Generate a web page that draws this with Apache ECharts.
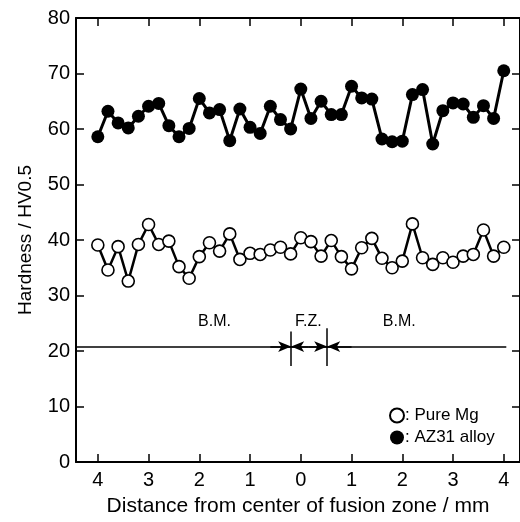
<!DOCTYPE html>
<html><head><meta charset="utf-8">
<script src="https://cdn.jsdelivr.net/npm/echarts@6/dist/echarts.min.js"></script>
<style>html,body{margin:0;padding:0;background:#fff}#c{width:520px;height:522px}</style>
</head><body><div id="c"></div>
<script>
// Positions (mm, negative = left side of fusion zone)
const positions = [-4.0,-3.8,-3.6,-3.4,-3.2,-3.0,-2.8,-2.6,-2.4,-2.2,-2.0,-1.8,-1.6,-1.4,-1.2,-1.0,-0.8,-0.6,-0.4,-0.2,0.0,0.2,0.4,0.6,0.8,1.0,1.2,1.4,1.6,1.8,2.0,2.2,2.4,2.6,2.8,3.0,3.2,3.4,3.6,3.8,4.0];
const az31 = [58.6,63.2,61.1,60.2,62.3,64.1,64.6,60.6,58.6,60.1,65.5,62.9,63.5,57.9,63.6,60.3,59.2,64.1,61.7,60.0,67.2,61.9,65.0,62.6,62.6,67.7,65.6,65.4,58.2,57.7,57.8,66.2,67.1,57.3,63.3,64.7,64.5,62.1,64.2,61.9,70.5];
const pureMg = [39.1,34.6,38.8,32.6,39.2,42.8,39.2,39.8,35.2,33.1,37.0,39.5,38.0,41.1,36.5,37.6,37.4,38.2,38.7,37.5,40.4,39.7,37.1,39.9,37.0,34.8,38.6,40.3,36.7,35.0,36.2,42.9,36.8,35.6,36.8,36.0,37.1,37.4,41.8,37.1,38.7];
const xTicks = [-4,-3,-2,-1,0,1,2,3,4];
const xTickLabels = ['4','3','2','1','0','1','2','3','4'];
const zoneLabels = ['B.M.','F.Z.','B.M.'];
const zoneLabelX = [-1.7,0.15,1.94];
const zoneLabelY = 25.3;
const dimLineY = 20.8;
const fzBounds = [-0.19,0.52];

const FONT = 'Liberation Sans';
const black = '#000';
const axisLine = {show:true, onZero:false, lineStyle:{color:black,width:2}};
const tick = {show:true, inside:true, length:8, lineStyle:{color:black,width:1.5}};
const xMin = -4.43, xMax = 4.32;

const chart = echarts.init(document.getElementById('c'));
const mk = (a,b,s0,s1) => [{coord:a, symbol:s0}, {coord:b, symbol:s1}];
chart.setOption({
  animation:false,
  backgroundColor:'#fff',
  grid:{left:76,right:-1,top:18,bottom:59},
  legend:{
    orient:'vertical', left:384, top:402, itemWidth:14, itemHeight:14, itemGap:5,
    data:[{name:'Pure Mg',icon:'circle'},{name:'AZ31 alloy',icon:'circle'}],
    formatter: n => ': ' + n,
    textStyle:{fontFamily:FONT,fontSize:17,color:black,padding:[0,0,0,-4]}
  },
  xAxis:[
    {type:'value', min:xMin, max:xMax, position:'bottom', axisLine, 
     axisTick:Object.assign({customValues:xTicks},tick),
     axisLabel:{customValues:xTicks, formatter:(v)=>xTickLabels[xTicks.indexOf(Math.round(v))], fontFamily:FONT, fontSize:20, color:black, margin:8},
     splitLine:{show:false},
     name:'Distance from center of fusion zone / mm', nameLocation:'middle', nameGap:34,
     nameTextStyle:{fontFamily:FONT,fontSize:21,color:black}},
    {type:'value', min:xMin, max:xMax, position:'top', axisLine,
     axisTick:Object.assign({customValues:xTicks},tick),
     axisLabel:{show:false}, splitLine:{show:false}}
  ],
  yAxis:[
    {type:'value', min:0, max:80, interval:10, position:'left', axisLine, axisTick:tick,
     axisLabel:{fontFamily:FONT,fontSize:20,color:black,margin:6}, splitLine:{show:false},
     name:'Hardness / HV0.5', nameLocation:'middle', nameGap:41, nameRotate:90,
     nameTextStyle:{fontFamily:FONT,fontSize:19,color:black}},
    {type:'value', min:0, max:80, interval:10, position:'right', axisLine, axisTick:tick,
     axisLabel:{show:false}, splitLine:{show:false}}
  ],
  series:[
    {name:'AZ31 alloy', type:'line', data:positions.map((x,i)=>[x,az31[i]]),
     symbol:'circle', symbolSize:13, lineStyle:{color:black,width:3},
     itemStyle:{color:black,borderColor:black,borderWidth:0}, z:3},
    {name:'Pure Mg', type:'line', data:positions.map((x,i)=>[x,pureMg[i]]),
     symbol:'circle', symbolSize:12, lineStyle:{color:black,width:2.5},
     itemStyle:{color:'#fff',borderColor:black,borderWidth:1.6}, z:3},
    {name:'annot', type:'line', data:[], silent:true, z:4,
     markPoint:{
       silent:true, symbol:'circle', symbolSize:1, itemStyle:{color:'rgba(0,0,0,0)'},
       label:{show:true, position:'inside', formatter:p=>p.name, fontFamily:FONT, fontSize:16, color:'#000', opacity:1},
       data:zoneLabels.map((t,i)=>({name:t, coord:[zoneLabelX[i],zoneLabelY]}))
     },
     markLine:{
       silent:true, symbolSize:[8,13], label:{show:false},
       lineStyle:{color:black,width:1.5,type:'solid'},
       data:[
         mk([xMin,dimLineY],[4.05,dimLineY],'none','none'),
         mk([fzBounds[0],17.3],[fzBounds[0],23.5],'none','none'),
         mk([fzBounds[1],17.3],[fzBounds[1],24.1],'none','none'),
         mk([-0.6,dimLineY],[fzBounds[0],dimLineY],'none','arrow'),
         mk([0.15,dimLineY],[fzBounds[0],dimLineY],'none','arrow'),
         mk([0.15,dimLineY],[fzBounds[1],dimLineY],'none','arrow'),
         mk([1.0,dimLineY],[fzBounds[1],dimLineY],'none','arrow')
       ]
     }}
  ]
});
</script></body></html>
